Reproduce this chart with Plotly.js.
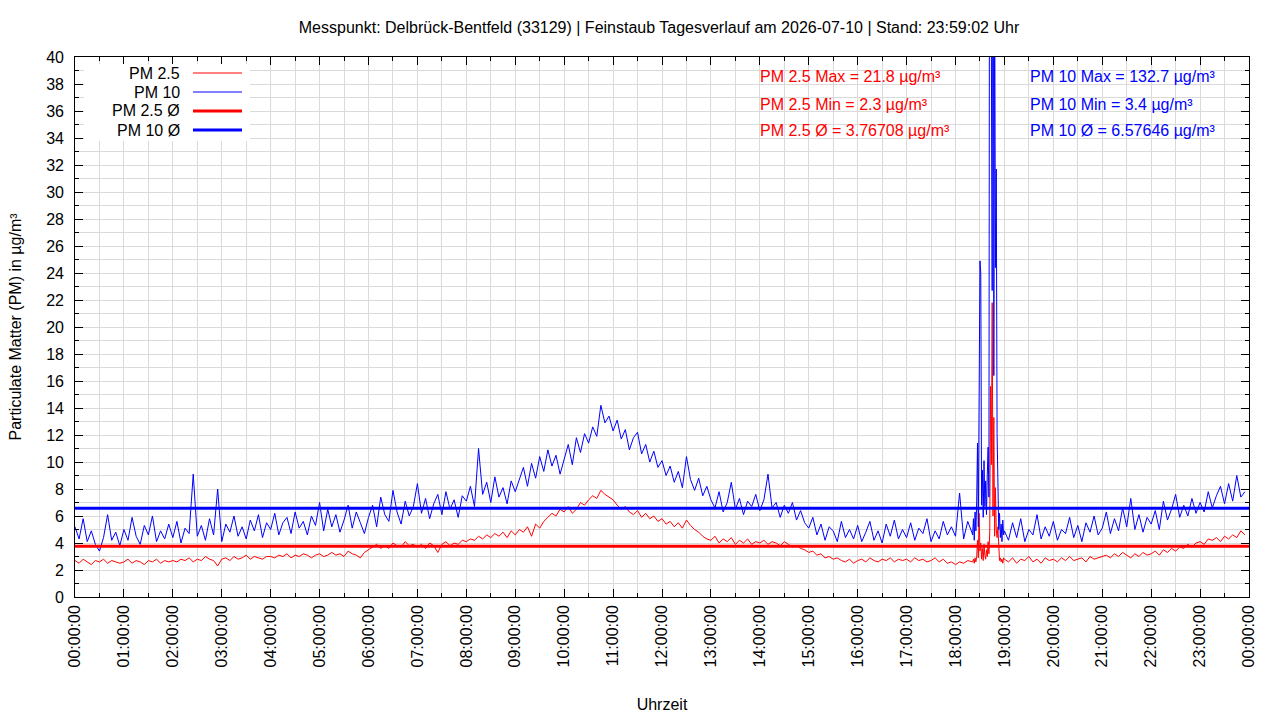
<!DOCTYPE html>
<html lang="de">
<head>
<meta charset="utf-8">
<title>Feinstaub Tagesverlauf</title>
<script src="https://cdn.plot.ly/plotly-3.0.1.min.js"></script>
<style>
  html, body { margin: 0; padding: 0; background: #fff; }
  #chart { width: 1280px; height: 720px; }
</style>
</head>
<body>
<div id="chart"></div>
<script>
// ── Data ──────────────────────────────────────────────────────────────────
const DAY      = '2026-07-10';
const NEXT_DAY = '2026-07-11';
const STATION  = 'Delbrück-Bentfeld (33129)';
const STAND    = '23:59:02';

// 5-minute readings, 00:00 – 18:20 (one row per hour)
const earlyStartMin = 0;
const earlyStepMin  = 5;
const pm10Early = [
  5.2, 4.3, 5.8, 4.1, 4.9, 3.9, 3.4, 4.4, 6.1, 4.2, 4.8, 3.8,
  5.0, 4.2, 5.9, 4.5, 3.9, 5.3, 4.6, 6.0, 4.1, 4.9, 4.3, 5.4,
  4.4, 5.6, 4.0, 5.1, 4.7, 9.1, 4.5, 5.3, 4.2, 5.8, 4.6, 8.0,
  4.1, 5.4, 4.8, 6.0, 4.5, 5.2, 4.3, 5.7, 4.9, 6.1, 4.4, 5.5,
  5.0, 6.2, 4.6, 5.5, 5.9, 4.7, 6.3, 5.1, 5.6, 4.6, 6.0, 5.3,
  7.0, 4.9, 6.5, 5.2, 6.1, 4.8, 5.7, 6.8, 5.1, 6.3, 5.5, 4.7,
  5.9, 6.8, 5.2, 7.4, 6.1, 5.6, 7.9, 6.3, 5.4, 7.1, 6.0, 6.7,
  8.4, 6.2, 7.3, 5.8, 6.9, 7.6, 6.1, 7.8, 6.5, 7.2, 5.9, 7.5,
  7.1, 8.2, 6.7, 11.0, 7.6, 8.5, 7.0, 8.9, 7.4, 8.1, 6.9, 8.6,
  7.8, 8.7, 9.6, 8.2, 9.9, 8.8, 10.4, 9.3, 10.9, 9.7, 10.5, 9.1,
  10.2, 11.3, 9.8, 11.8, 10.7, 12.1, 11.4, 12.6, 11.9, 14.2, 12.9, 13.4,
  12.3, 13.1, 11.7, 12.4, 10.9, 11.8, 12.2, 10.6, 11.3, 10.0, 10.8, 9.6,
  10.1, 9.0, 9.7, 8.5, 9.3, 8.1, 10.4, 8.7, 7.9, 8.8, 7.5, 8.2,
  7.2, 6.6, 7.8, 6.3, 7.0, 8.5, 6.5, 7.3, 6.1, 7.1, 6.7, 7.6,
  6.4, 7.2, 9.1, 6.6, 7.0, 5.9, 6.8, 6.2, 7.0, 5.7, 6.4, 5.5,
  5.1, 5.9, 4.6, 5.4, 4.2, 5.2, 4.9, 4.1, 5.6, 4.4, 5.0, 4.3,
  5.3, 4.1, 4.8, 5.6, 4.2, 4.9, 4.0, 5.4, 4.5, 5.7, 4.3, 5.0,
  4.4, 5.5, 4.2, 5.1, 4.7, 5.8, 4.1, 4.9, 4.3, 5.6, 4.6, 5.2,
  4.5, 7.7, 4.3, 5.6, 4.8
];
const pm25Early = [
  2.7, 2.5, 2.8, 2.6, 2.4, 2.7, 2.6, 2.8, 2.5, 2.7, 2.6, 2.5,
  2.6, 2.8, 2.5, 2.7, 2.6, 2.4, 2.7, 2.6, 2.8, 2.5, 2.7, 2.6,
  2.7, 2.6, 2.8, 2.7, 2.9, 2.6, 2.8, 2.7, 3.0, 2.8, 2.7, 2.3,
  2.8, 2.9, 2.7, 3.0, 2.8, 2.9, 3.1, 2.8, 3.0, 2.9, 2.8, 3.0,
  3.0, 2.9, 3.1, 3.0, 3.2, 2.9, 3.1, 3.0, 3.2, 3.1, 2.9, 3.1,
  3.2, 3.0, 3.1, 3.3, 3.1, 3.2, 3.0, 3.4, 3.2, 3.1, 2.9, 3.3,
  3.5, 3.7, 3.9, 3.6, 3.8, 3.6, 4.0, 3.8, 3.7, 4.1, 3.8, 3.9,
  3.7, 3.9, 3.6, 4.0, 3.8, 3.3, 3.9, 4.1, 3.8, 4.0, 3.9, 4.2,
  4.1, 4.3, 4.2, 4.5, 4.3, 4.6, 4.4, 4.7, 4.5, 4.8, 4.4, 4.9,
  4.6, 5.0, 4.8, 5.2, 4.5, 5.4, 5.1, 5.6, 5.9, 6.2, 6.0, 6.5,
  6.3, 6.7, 6.2, 6.5, 7.0, 6.8, 7.2, 7.5, 7.3, 7.9, 7.6, 7.4,
  7.2, 6.8, 6.5, 6.7, 6.3, 6.1, 6.4, 5.9, 6.2, 5.8, 6.0, 5.6,
  5.8, 5.4, 5.6, 5.2, 5.5, 5.1, 5.7, 5.3, 5.0, 4.8, 4.5, 4.3,
  4.2, 4.5, 4.0, 4.3, 4.1, 4.4, 3.9, 4.2, 4.0, 4.3, 3.9, 4.1,
  4.0, 4.2, 3.9, 4.1, 4.0, 3.8, 4.1, 3.9, 3.7, 3.8, 3.6, 3.5,
  3.3, 3.4, 3.1, 3.2, 2.9, 3.0, 2.8, 2.9, 2.7, 2.6, 2.8, 2.5,
  2.7, 2.8, 2.6, 2.9, 2.7, 2.6, 2.8, 2.7, 2.9, 2.6, 2.8, 2.7,
  2.8, 2.6, 2.9, 2.7, 2.8, 2.6, 2.7, 2.9, 2.6, 2.8, 2.5, 2.6,
  2.4, 2.6, 2.5, 2.7, 2.6
];

// 1-minute readings, 18:21 – 18:59 (the short event)
const spikeStartMin = 18 * 60 + 21;
const spikeStepMin  = 1;
const pm10Spike = [
  4.6, 5.8, 4.2, 6.3, 4.9, 7.1, 11.4, 5.2, 14.7, 24.9,
  24.0, 6.8, 9.4, 5.9, 10.1, 6.7, 8.6, 6.1, 9.1, 11.1,
  7.4, 58.0, 132.7, 40.5, 22.7, 96.0, 16.4, 47.0, 24.4, 31.7,
  12.1, 8.3, 5.0, 6.2, 4.4, 5.4, 4.1, 5.7, 4.6
];
const pm25Spike = [
  2.6, 2.8, 2.5, 2.9, 2.6, 3.0, 4.2, 2.9, 6.2, 3.4,
  4.0, 2.8, 3.6, 2.7, 3.9, 3.1, 2.8, 3.5, 3.0, 4.1,
  3.2, 4.8, 15.6, 9.8, 21.8, 6.0, 13.3, 4.5, 8.1, 5.0,
  4.4, 5.2, 3.3, 2.7, 2.9, 2.6, 2.8, 2.5, 2.9
];

// 5-minute readings, 19:00 – 23:55
const lateStartMin = 19 * 60;
const lateStepMin  = 5;
const pm10Late = [
  4.9, 4.2, 5.5, 4.4, 5.8, 4.1, 5.0, 4.6, 6.1, 4.3, 5.2, 4.5,
  5.6, 4.2, 5.0, 4.7, 5.9, 4.4, 5.3, 4.1, 5.5, 4.8, 6.0, 4.6,
  5.1, 6.3, 4.7, 5.8, 4.9, 6.6, 5.2, 7.3, 5.0, 6.1, 4.8, 5.9,
  5.4, 6.4, 5.0, 7.1, 5.7, 6.5, 7.6, 5.9, 6.8, 6.0, 7.3, 6.2,
  7.0, 6.3, 7.8, 6.6, 7.5, 8.2, 6.9, 8.4, 7.1, 9.0, 7.4, 7.8
];
const pm25Late = [
  2.8, 2.6, 2.9, 2.5, 2.8, 2.7, 3.0, 2.6, 2.8, 2.5, 2.9, 2.7,
  2.8, 2.6, 2.9, 2.7, 3.0, 2.7, 2.8, 2.9, 2.6, 3.0, 2.8, 2.9,
  3.0, 3.1, 2.9, 3.2, 3.0, 3.3, 3.1, 2.9, 3.2, 3.0, 3.3, 3.1,
  3.2, 3.4, 3.1, 3.5, 3.3, 3.6, 3.4, 3.7, 3.6, 3.9, 3.7, 4.0,
  4.1, 3.9, 4.3, 4.2, 4.4, 4.1, 4.5, 4.3, 4.6, 4.4, 4.9, 4.6
];

// Daily statistics as reported by the station
const pm25Max = 21.8, pm25Min = 2.3, pm25Mean = 3.76708;
const pm10Max = 132.7, pm10Min = 3.4, pm10Mean = 6.57646;

const RED  = '#ff0000';
const BLUE = '#0000ff';
const FONT = 'Liberation Sans, Arial, sans-serif';
const FS   = 16;

// ── Build series ──────────────────────────────────────────────────────────
function pad(n) { return n.toString().padStart(2, '0'); }
function stamp(min) {
  if (min >= 24 * 60) return NEXT_DAY + ' 00:00:00';
  return `${DAY} ${pad(Math.floor(min / 60))}:${pad(min % 60)}:00`;
}
function timesFor(values, start, step) {
  return values.map((_, i) => stamp(start + i * step));
}

const times = [
  ...timesFor(pm10Early, earlyStartMin, earlyStepMin),
  ...timesFor(pm10Spike, spikeStartMin, spikeStepMin),
  ...timesFor(pm10Late,  lateStartMin,  lateStepMin),
];
const pm10 = [...pm10Early, ...pm10Spike, ...pm10Late];
const pm25 = [...pm25Early, ...pm25Spike, ...pm25Late];
const dayRange = [stamp(0), stamp(24 * 60)];
const pmRange  = [0, 40];

const traces = [
  {x: times, y: pm25, mode: 'lines', name: 'PM 2.5', line: {color: RED, width: 1}},
  {x: times, y: pm10, mode: 'lines', name: 'PM 10',  line: {color: BLUE, width: 1}},
  {x: dayRange, y: [pm25Mean, pm25Mean], mode: 'lines', name: 'PM 2.5 Ø',
   line: {color: RED, width: 3}},
  {x: dayRange, y: [pm10Mean, pm10Mean], mode: 'lines', name: 'PM 10 Ø',
   line: {color: BLUE, width: 3}},
];

// ── Geometry ──────────────────────────────────────────────────────────────
// The label axes sit a few px outside the frame, gnuplot style, so the
// paper area is a little larger than the frame.
const MARGIN  = {l: 64, r: 31, t: 57, b: 119};
const PAPER_W = 1280 - MARGIN.l - MARGIN.r;
const PAPER_H = 720 - MARGIN.t - MARGIN.b;
const GAP_L = 11, GAP_B = 4;
const paperX = (px) => (px - MARGIN.l) / PAPER_W;
const paperY = (py) => (720 - MARGIN.b - py) / PAPER_H;

// ── Legend (gnuplot style: text left, sample right) ───────────────────────
const legendRows = [
  {name: 'PM 2.5',   color: RED,  width: 1},
  {name: 'PM 10',    color: BLUE, width: 1},
  {name: 'PM 2.5 Ø', color: RED,  width: 3},
  {name: 'PM 10 Ø',  color: BLUE, width: 3},
];

const shapes = [{
  type: 'rect', xref: 'paper', yref: 'paper', layer: 'above',
  x0: paperX(84), x1: paperX(250), y0: paperY(141), y1: paperY(64),
  fillcolor: '#ffffff', line: {width: 0},
}];
const annotations = [];

legendRows.forEach((row, i) => {
  const yy = paperY(73 + i * 19);
  annotations.push({
    xref: 'paper', yref: 'paper', x: paperX(182), y: yy,
    xanchor: 'right', yanchor: 'middle', showarrow: false,
    text: row.name, font: {size: FS, color: '#000', family: FONT},
  });
  shapes.push({
    type: 'line', xref: 'paper', yref: 'paper', layer: 'above',
    x0: paperX(193), x1: paperX(242), y0: yy, y1: yy,
    line: {color: row.color, width: row.width},
  });
});

// ── Statistics text ───────────────────────────────────────────────────────
const statLines = [
  [`PM 2.5 Max = ${pm25Max} µg/m³`, `PM 10 Max = ${pm10Max} µg/m³`],
  [`PM 2.5 Min = ${pm25Min} µg/m³`, `PM 10 Min = ${pm10Min} µg/m³`],
  [`PM 2.5 Ø = ${pm25Mean} µg/m³`,  `PM 10 Ø = ${pm10Mean} µg/m³`],
];
statLines.forEach((pair, i) => {
  const yy = paperY(77 + i * 27);
  annotations.push({
    xref: 'paper', yref: 'paper', x: paperX(758), y: yy, xanchor: 'left', yanchor: 'middle',
    showarrow: false, text: pair[0], font: {size: FS, color: RED, family: FONT},
  });
  annotations.push({
    xref: 'paper', yref: 'paper', x: paperX(1028), y: yy, xanchor: 'left', yanchor: 'middle',
    showarrow: false, text: pair[1], font: {size: FS, color: BLUE, family: FONT},
  });
});

// ── Layout ────────────────────────────────────────────────────────────────
// x/y: frame, inside ticks and grid; x2/y2: only the labels and titles
const GRID = '#dadada';
const frameAxis = {
  showline: true, linecolor: '#000', linewidth: 1, mirror: 'ticks',
  ticks: 'inside', ticklen: 8, tickcolor: '#000', tickwidth: 1,
  showgrid: true, gridcolor: GRID, gridwidth: 1, zeroline: false,
  showticklabels: false, automargin: false,
};
const labelAxis = {
  showline: false, showgrid: false, zeroline: false, ticks: '',
  tickfont: {size: FS, color: '#000', family: FONT}, automargin: false,
};
const minorGrid = (dt) => ({dtick: dt, ticks: 'inside', ticklen: 4, tickcolor: '#000',
                            showgrid: true, gridcolor: GRID, gridwidth: 1});

const layout = {
  width: 1280, height: 720,
  margin: MARGIN,
  paper_bgcolor: '#fff', plot_bgcolor: '#fff',
  font: {family: FONT, color: '#000', size: FS},
  showlegend: false,
  title: {
    text: `Messpunkt: ${STATION} | Feinstaub Tagesverlauf am ${DAY} | Stand: ${STAND} Uhr`,
    font: {size: FS, color: '#000', family: FONT},
    xref: 'paper', x: paperX(659), xanchor: 'center', y: 1 - 27 / 720, yanchor: 'middle',
  },
  xaxis: Object.assign({}, frameAxis, {
    type: 'date', range: dayRange, dtick: 3600000, tick0: dayRange[0],
    domain: [GAP_L / PAPER_W, 1], minor: minorGrid(1800000),
  }),
  yaxis: Object.assign({}, frameAxis, {
    range: pmRange, dtick: 2, tick0: 0,
    domain: [GAP_B / PAPER_H, 1], minor: minorGrid(1),
  }),
  xaxis2: Object.assign({}, labelAxis, {
    type: 'date', overlaying: 'x', side: 'bottom', anchor: 'free', position: 0,
    range: dayRange, dtick: 3600000, tick0: dayRange[0],
    tickformat: '%H:%M:%S', tickangle: -90,
    title: {text: 'Uhrzeit', standoff: 32, font: {size: FS, family: FONT}},
  }),
  yaxis2: Object.assign({}, labelAxis, {
    overlaying: 'y', side: 'left', anchor: 'free', position: 0,
    range: pmRange, dtick: 2, tick0: 0,
    title: {text: 'Particulate Matter (PM) in µg/m³', standoff: 19, font: {size: FS, family: FONT}},
  }),
  shapes: shapes,
  annotations: annotations,
};

// an invisible pair of points keeps the label axes drawn
traces.push({x: dayRange, y: pmRange, xaxis: 'x2', yaxis: 'y2', mode: 'lines',
             line: {width: 0}, hoverinfo: 'skip', showlegend: false});

Plotly.newPlot('chart', traces, layout, {displayModeBar: false, staticPlot: true});
</script>
</body>
</html>
